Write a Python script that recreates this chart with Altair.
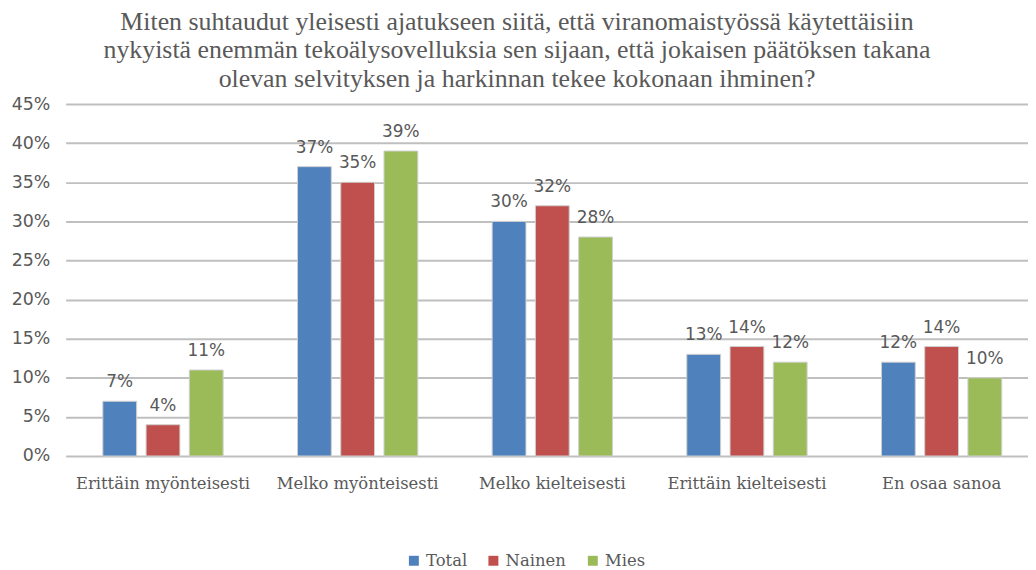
import altair as alt
import pandas as pd

categories = ["Erittäin myönteisesti", "Melko myönteisesti", "Melko kielteisesti",
              "Erittäin kielteisesti", "En osaa sanoa"]
series = ["Total", "Nainen", "Mies"]
total = [0.07, 0.37, 0.30, 0.13, 0.12]
nainen = [0.04, 0.35, 0.32, 0.14, 0.14]
mies = [0.11, 0.39, 0.28, 0.12, 0.10]
colors = ["#4F81BD", "#C0504D", "#9BBB59"]
title_lines = [
    "Miten suhtaudut yleisesti ajatukseen siitä, että viranomaistyössä käytettäisiin",
    "nykyistä enemmän tekoälysovelluksia sen sijaan, että jokaisen päätöksen takana",
    "olevan selvityksen ja harkinnan tekee kokonaan ihminen?",
]
y_ticks = [0, 0.05, 0.10, 0.15, 0.20, 0.25, 0.30, 0.35, 0.40, 0.45]

rows = []
for s, vals in zip(series, [total, nainen, mies]):
    for c, v in zip(categories, vals):
        rows.append({"cat": c, "series": s, "value": v})
df = pd.DataFrame(rows)

W = 968
XR = 979
H = 354

yaxis = alt.Axis(values=y_ticks, format=".0%", labelFont="DejaVu Sans",
                 labelFontSize=17.5, labelColor="#595959", labelPadding=16,
                 labelOverlap=False, ticks=False, domain=False,
                 gridColor="#BFBFBF", gridWidth=2)
yenc = alt.Y("value:Q", title=None, scale=alt.Scale(domain=[0, 0.45], nice=False),
             axis=yaxis)

base = alt.Chart(df).encode(
    x=alt.X("cat:N", sort=categories, title=None,
            scale=alt.Scale(range=[0, XR], paddingInner=0.382, paddingOuter=0.191),
            axis=alt.Axis(labelFont="DejaVu Serif", labelFontSize=16.5, labelColor="#595959",
                          labelPadding=20, ticks=False, domain=False, labelAngle=0,
                          labelLimit=300)),
    xOffset=alt.XOffset("series:N", sort=series,
                        scale=alt.Scale(paddingInner=0.218, paddingOuter=0)),
    y=yenc,
)

bars = base.mark_bar(stroke="#d0d0d0", strokeWidth=1).encode(
    color=alt.Color("series:N", sort=series,
                    scale=alt.Scale(domain=series, range=colors),
                    legend=alt.Legend(title=None, orient="none", direction="horizontal",
                                      legendX=342, legendY=451, symbolType="square",
                                      symbolSize=100, symbolStrokeWidth=0,
                                      labelFont="DejaVu Serif", labelFontSize=16.5,
                                      labelColor="#595959", columnPadding=18,
                                      labelOffset=4)),
)

labels = base.mark_text(font="DejaVu Sans", fontSize=17, color="#595959",
                        baseline="alphabetic", dy=-14).encode(
    text=alt.Text("value:Q", format=".0%"),
)

chart = alt.layer(bars, labels).properties(
    width=W, height=H,
    title=alt.TitleParams(text=title_lines, font="Liberation Serif", fontSize=26,
                          fontWeight="normal", color="#595959", lineHeight=29,
                          anchor="middle", dx=-30, offset=3),
    autosize=alt.AutoSizeParams(type="none"),
    padding={"left": 58, "top": 95, "right": 0, "bottom": 112},
).configure_view(stroke=None).configure_legend(labelFont="DejaVu Serif")

chart.save("out.html", embed_options={"renderer": "svg", "actions": False})
